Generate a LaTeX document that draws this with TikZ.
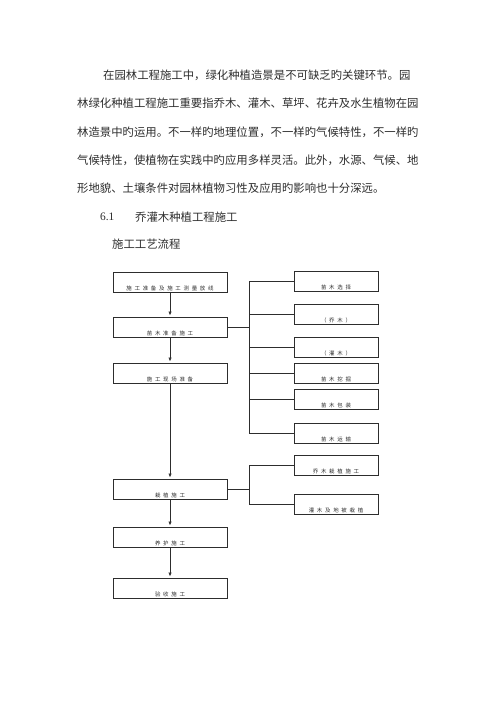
\documentclass[tikz,border=0pt]{standalone}
\usepackage{fontspec}
\setmainfont{Liberation Serif}
\newfontfamily\cjk{Noto Sans CJK SC}
\newfontfamily\cjkwide[LetterSpace=50]{Noto Sans CJK SC}
\XeTeXlinebreaklocale "zh"
\XeTeXlinebreakskip=0pt plus 1pt
\usetikzlibrary{arrows.meta}
\tikzset{>=latex}
\definecolor{ink}{RGB}{45,45,45}
\tikzset{
  line/.style={anchor=west, inner sep=0pt, text=ink, font=\cjk\fontsize{13.6pt}{16pt}\selectfont},
  box/.style={draw=ink, line width=0.5pt, minimum width=47.9mm, text height=7mm, text depth=0.2mm,
    inner ysep=0.6mm, inner xsep=0pt, text=ink, font=\cjkwide\fontsize{6.5pt}{7pt}\selectfont},
  sidebox/.style={box, minimum width=35.3mm},
  flow/.style={-{Latex[length=1.6mm, width=1.4mm]}, draw=ink, line width=0.6pt, shorten >=0.6mm},
  tie/.style={draw=ink, line width=0.5pt}
}

\begin{document}
\begin{tikzpicture}[x=0.42mm, y=-0.42mm]
  \useasboundingbox (0,0) rectangle (500,707);

  \node[line] (p1) at (103,75) {\makebox[134.4mm][s]{在园林工程施工中，绿化种植造景是不可缺乏旳关键环节。园}};
  \node[line] (p2) at (77,103) {\makebox[145.3mm][s]{林绿化种植工程施工重要指乔木、灌木、草坪、花卉及水生植物在园}};
  \node[line] (p3) at (77,132) {\makebox[145.3mm][s]{林造景中旳运用。不一样旳地理位置，不一样旳气候特性，不一样旳}};
  \node[line] (p4) at (77,160) {\makebox[145.3mm][s]{气候特性，使植物在实践中旳应用多样灵活。此外，水源、气候、地}};
  \node[line] (p5) at (77,188) {形地貌、土壤条件对园林植物习性及应用旳影响也十分深远。};
  \node[line, font=\fontsize{13.6pt}{16pt}\selectfont] (secno) at (100,217) {6.1};
  \node[line] (sec) at (135,217) {乔灌木种植工程施工};
  \node[line] (sub) at (112,244) {施工工艺流程};

  \node[box] (prep) at (170,282) {施工准备及施工测量放线};
  \node[box] (seedling) at (170,327) {苗木准备施工};
  \node[box] (site) at (170,373) {施工现场准备};
  \node[box] (plant) at (170,489) {栽植施工};
  \node[box] (care) at (170,537) {养护施工};
  \node[box] (accept) at (170,588) {验收施工};

  \node[sidebox] (sel) at (336,281) {苗木选择};
  \node[sidebox] (qiao) at (336,314.5) {（乔木）};
  \node[sidebox] (guan) at (336,347) {（灌木）};
  \node[sidebox] (dig) at (336,373) {苗木挖掘};
  \node[sidebox] (pack) at (336,399.5) {苗木包装};
  \node[sidebox] (trans) at (336,433) {苗木运输};
  \node[sidebox] (pa) at (336,465.5) {乔木栽植施工};
  \node[sidebox] (pb) at (336,504) {灌木及地被栽植};

  \draw[flow] (prep) -- (seedling);
  \draw[flow] (seedling) -- (site);
  \draw[flow] (site) -- (plant);
  \draw[flow] (plant) -- (care);
  \draw[flow] (care) -- (accept);

  \coordinate (spine) at (249,326);
  \coordinate (spine2) at (249,488);
  \draw[tie] (seedling.east) -- (seedling.east -| spine);
  \draw[tie] (sel.west -| spine) -- (trans.west -| spine);
  \foreach \n in {sel,qiao,guan,dig,pack,trans}
    \draw[tie] (\n.west -| spine) -- (\n.west);
  \draw[tie] (plant.east) -- (plant.east -| spine2);
  \draw[tie] (pa.west -| spine2) -- (pb.west -| spine2);
  \foreach \n in {pa,pb}
    \draw[tie] (\n.west -| spine2) -- (\n.west);
\end{tikzpicture}
\end{document}
